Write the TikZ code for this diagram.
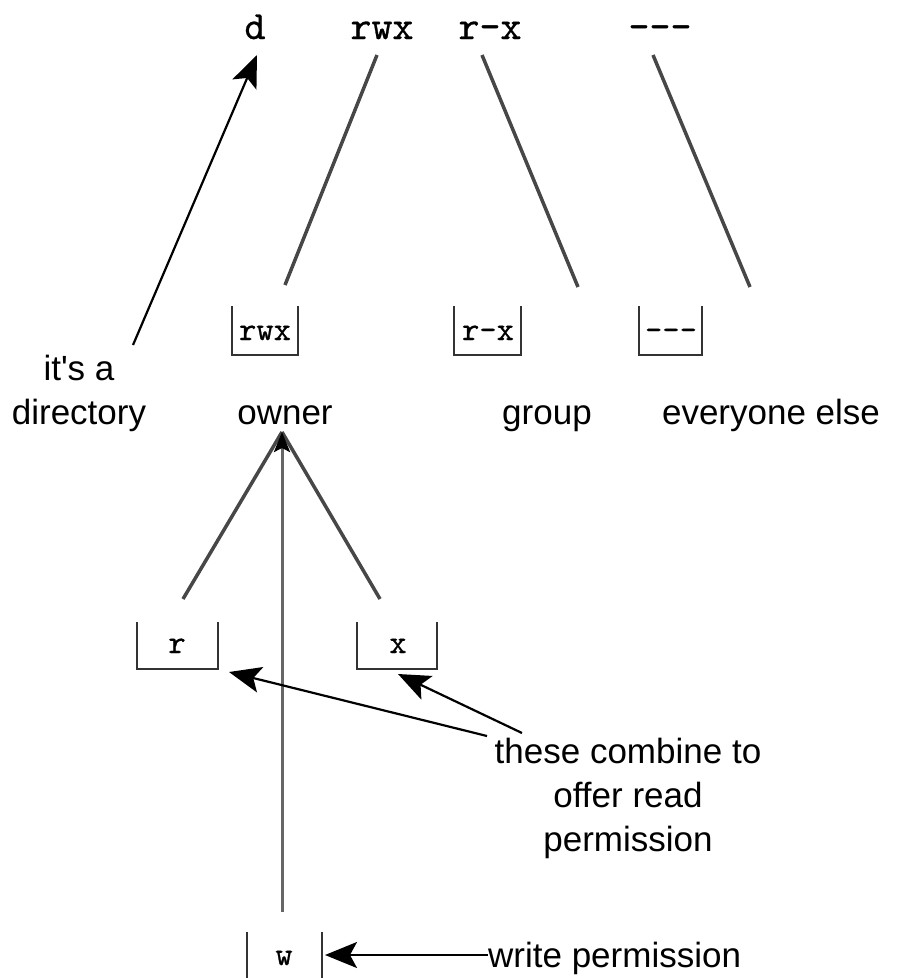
\documentclass[tikz,border=0pt]{standalone}
\usepackage{fontspec}
\setmainfont{Liberation Sans}
\newfontfamily\heavymono{lmmono10-regular.otf}[FakeBold=0.7]
\usetikzlibrary{arrows.meta}
\begin{document}
\begin{tikzpicture}[x=1pt,y=-1pt,
  sans/.style={font=\fontsize{35}{44}\selectfont, align=center, inner sep=0pt, anchor=base},
  mono/.style={font=\heavymono\fontsize{40}{42}\selectfont, inner sep=0pt, anchor=base},
  boxtxt/.style={font=\heavymono\fontsize{33}{36}\selectfont, inner sep=0pt, anchor=base},
  ubox/.style={draw=black!80, line width=2pt},
  link/.style={draw=black!72, line width=3.5pt},
  pointer/.style={draw=black, line width=2.2pt, -{Stealth[length=32pt,width=26pt,inset=7pt]}},
  apexarrow/.style={draw=black!60, line width=3pt, -{Stealth[length=20pt,width=16pt,inset=4pt,color=black,fill=black]}}]
\useasboundingbox (0,0) rectangle (897,978);
% top string
\node[mono] (td) at (255,39) {d};
\node[mono] (trwx) at (382,39) {rwx};
\node[mono] (trx) at (490,39) {r-x};
\node[mono] (tnone) at (660,39) {---};
% boxes
\draw[ubox] (232,306) -- (232,355) -- (298,355) -- (298,306);
\node[boxtxt] (brwx) at (265,340) {rwx};
\draw[ubox] (454,306) -- (454,355) -- (521,355) -- (521,306);
\node[boxtxt] (brx) at (488,340) {r-x};
\draw[ubox] (639,306) -- (639,355) -- (702,355) -- (702,306);
\node[boxtxt] (bnone) at (671,340) {---};
% labels
\node[sans] (dir) at (79,424) {it\textquotesingle s a\\directory};
\node[sans] (owner) at (285,424) {owner};
\node[sans] (group) at (547,424) {group};
\node[sans] (every) at (771,424) {everyone else};
% links top
\coordinate (rwxA) at (377,55); \coordinate (rwxB) at (285,285);
\coordinate (rxA) at (482,55); \coordinate (rxB) at (578,287);
\coordinate (noneA) at (653,55); \coordinate (noneB) at (750,287);
\draw[link] (rwxA) -- (rwxB);
\draw[link] (rxA) -- (rxB);
\draw[link] (noneA) -- (noneB);
\coordinate (dirA) at (133,345); \coordinate (dirB) at (257,55);
\draw[pointer] (dirA) -- (dirB);
% owner breakdown
\coordinate (apex) at (282,432);
\coordinate (rleg) at (183,599);
\coordinate (xleg) at (380,599);
\coordinate (wleg) at (282,912);
\draw[link] (apex) -- (rleg);
\draw[link] (apex) -- (xleg);
\draw[apexarrow] (wleg) -- (apex);
\draw[ubox] (137,622) -- (137,669) -- (218,669) -- (218,622);
\node[boxtxt] (br) at (177,653) {r};
\draw[ubox] (357,622) -- (357,669) -- (437,669) -- (437,622);
\node[boxtxt] (bx) at (398,653) {x};
\draw[ubox] (247,932) -- (247,990) (322,990) -- (322,932);
\node[boxtxt] (bw) at (284,965) {w};
% combine note
\node[sans] (comb) at (628,851) {these combine to\\offer read\\permission};
\coordinate (cr) at (487,736); \coordinate (crT) at (229,672);
\coordinate (cx) at (522,733); \coordinate (cxT) at (398,674);
\draw[pointer] (cr) -- (crT);
\draw[pointer] (cx) -- (cxT);
% write
\node[sans, anchor=base west] (wp) at (488,967) {write permission};
\coordinate (wT) at (325,955);
\draw[pointer] (wp.west |- wT) -- (wT);
\end{tikzpicture}
\end{document}
